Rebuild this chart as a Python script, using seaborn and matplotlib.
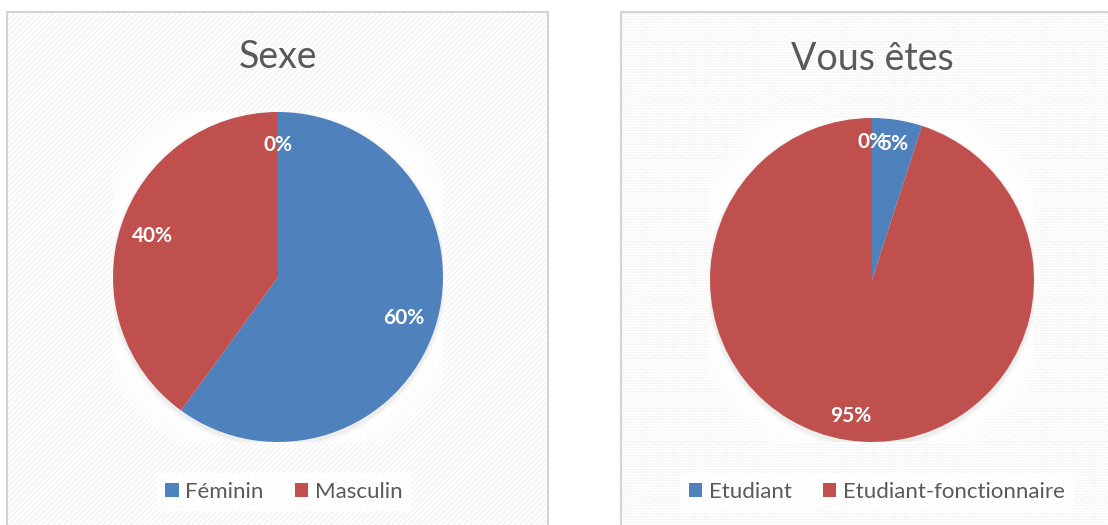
import matplotlib.pyplot as plt
from matplotlib.patches import Rectangle, Circle
import seaborn as sns

# Data
sexe_labels = ["Féminin", "Masculin", ""]
sexe_values = [60, 40, 0]
statut_labels = ["Etudiant", "Etudiant-fonctionnaire", ""]
statut_values = [5, 95, 0]

BLUE = "#4F81BD"
RED = "#C0504D"
TEXT = "#595959"

sns.set_theme(style="white")
plt.rcParams['font.family'] = ['Lato', 'DejaVu Sans']
plt.rcParams['hatch.linewidth'] = 0.6

W, H = 1108, 525
fig = plt.figure(figsize=(W / 100, H / 100), dpi=100)
fig.patch.set_facecolor("white")


def px_box(x0, y0, x1, y1):
    # pixel box (top-left origin) -> figure fraction [left, bottom, width, height]
    return [x0 / W, 1 - y1 / H, (x1 - x0) / W, (y1 - y0) / H]


def panel(x0, x1, hatch):
    l, b, w, h = px_box(x0, 12, x1, 530)
    fig.patches.append(Rectangle((l, b), w, h, transform=fig.transFigure,
                                 facecolor="white", edgecolor="#ebebeb",
                                 hatch=hatch, linewidth=0, zorder=-2))
    fig.patches.append(Rectangle((l, b), w, h, transform=fig.transFigure,
                                 facecolor="none", edgecolor="#d4d4d4",
                                 linewidth=1.5, zorder=-1))


def draw_pie(rect, values, labels, pctdist, title, title_xy, leg_xy):
    ax = fig.add_axes(rect)
    ax.set_facecolor("none")
    # soft glow + shadow behind the pie
    for r, a in [(1.18, 0.5), (1.10, 0.6), (1.04, 0.8)]:
        ax.add_patch(Circle((0, 0), r, facecolor="white", edgecolor="none", alpha=a, zorder=0))
    for r, a in [(1.025, 0.05), (1.012, 0.08)]:
        ax.add_patch(Circle((0, -0.015), r, facecolor="#808080", edgecolor="none", alpha=a, zorder=0))
    wedges, _, autotexts = ax.pie(
        values, colors=[BLUE, RED, BLUE], startangle=90, counterclock=False,
        autopct=lambda p: f"{p:.0f}%", pctdistance=pctdist,
        wedgeprops=dict(linewidth=0),
        textprops=dict(color="white", fontsize=15, fontweight="bold"))
    ax.set_xlim(-1, 1)
    ax.set_ylim(-1, 1)
    ax.set_aspect("equal")
    ax.axis("off")
    fig.text(title_xy[0] / W, 1 - title_xy[1] / H, title, ha="center", va="center",
             fontsize=27, color=TEXT)
    leg = fig.legend(wedges[:2], labels[:2], loc="center",
                     bbox_to_anchor=(leg_xy[0] / W, 1 - leg_xy[1] / H),
                     ncol=2, frameon=True, fontsize=16, handlelength=0.6,
                     handleheight=0.6, handletextpad=0.3, columnspacing=1.4,
                     borderpad=0.4, fancybox=False)
    leg.get_frame().set_facecolor("white")
    leg.get_frame().set_edgecolor("none")
    for t in leg.get_texts():
        t.set_color(TEXT)
    return ax


panel(7, 548, "//////")
panel(621, 1115, "......")

draw_pie(px_box(113, 112, 443, 442), sexe_values, sexe_labels, 0.8,
         "Sexe", (278, 57), (284, 492))
draw_pie(px_box(710, 118, 1034, 442), statut_values, statut_labels, 0.85,
         "Vous êtes", (872, 59), (877, 492))

fig.savefig("out.png", dpi=100)
